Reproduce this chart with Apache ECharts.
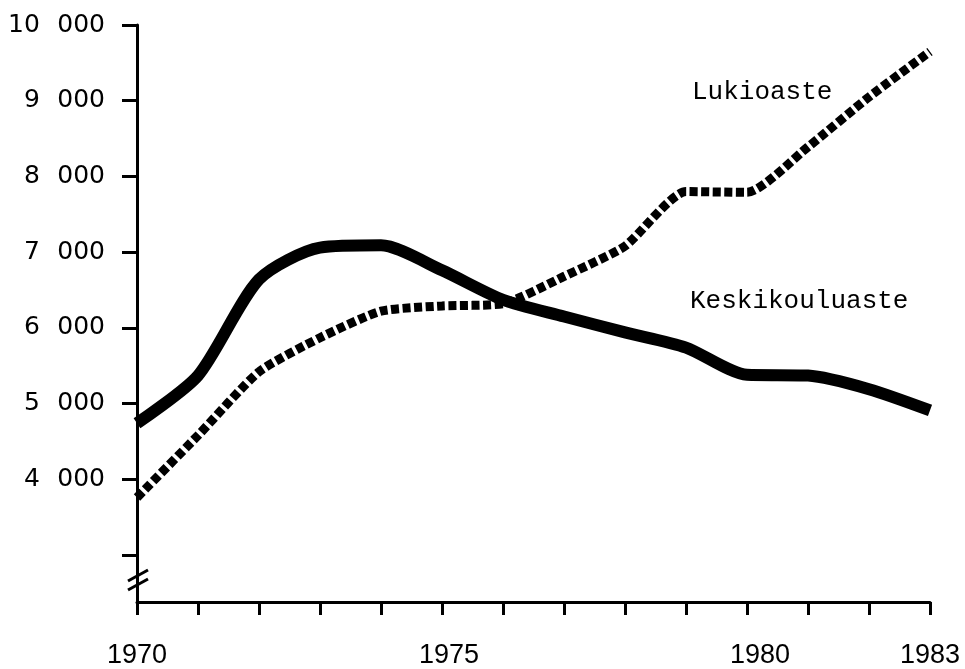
<!DOCTYPE html>
<html>
<head>
<meta charset="utf-8">
<script src="https://cdn.jsdelivr.net/npm/echarts@6/dist/echarts.min.js"></script>
<style>
  html, body { margin: 0; padding: 0; background: #fff; }
  #chart { width: 965px; height: 669px; }
</style>
</head>
<body>
<div id="chart"></div>
<script>
// values (pupils per year)
const years = [1970, 1971, 1972, 1973, 1974, 1975, 1976, 1977, 1978, 1979, 1980, 1981, 1982, 1983]
const keskikouluaste = [4740, 5370, 6640, 7060, 7090, 6760, 6370, 6150, 5940, 5740, 5380, 5370, 5190, 4910]
const lukioaste = [3760, 4580, 5420, 5870, 6220, 6290, 6320, 6680, 7080, 7800, 7790, 8390, 9050, 9650]
const yTicks = [3000, 4000, 5000, 6000, 7000, 8000, 9000, 10000]
const yLabels = [4000, 5000, 6000, 7000, 8000, 9000, 10000]
const xLabels = [1970, 1975, 1980, 1983]

const chart = echarts.init(document.getElementById('chart'), null, { renderer: 'canvas' })

const ink = '#000'

const option = {
  backgroundColor: '#fff',
  animation: false,
  grid: { left: 137, right: 35, top: 25, bottom: 67 },
  xAxis: {
    type: 'value',
    min: 1970,
    max: 1983,
    interval: 1,
    splitLine: { show: false },
    axisLine: { lineStyle: { color: ink, width: 3 } },
    axisTick: { inside: false, length: 13, lineStyle: { color: ink, width: 3 } },
    axisLabel: {
      customValues: xLabels,
      margin: 40,
      color: ink,
      fontFamily: 'Liberation Sans',
      fontSize: 27,
      // the printed 1975 and 1980 sit a little right of their ticks
      formatter: v => v === 1975 ? '{a|1975}' : v === 1980 ? '{b|1980}' : String(v),
      rich: {
        a: { padding: [0, 0, 0, 14], fontFamily: 'Liberation Sans', fontSize: 27, color: ink },
        b: { padding: [0, 0, 0, 26], fontFamily: 'Liberation Sans', fontSize: 27, color: ink }
      }
    }
  },
  yAxis: {
    type: 'value',
    min: 2380,
    max: 10000,
    splitLine: { show: false },
    axisLine: { show: true, lineStyle: { color: ink, width: 3 } },
    axisTick: { show: true, customValues: yTicks, length: 15, lineStyle: { color: ink, width: 3 } },
    axisLabel: {
      customValues: yLabels,
      margin: 32,
      color: ink,
      fontFamily: 'DejaVu Sans',
      fontSize: 25,
      formatter: v => String(v).replace(/(\d)(?=\d{3}$)/, '$1\u2002\u2009')
    }
  },
  series: [
    {
      name: 'Keskikouluaste',
      type: 'line',
      data: years.map((y, i) => [y, keskikouluaste[i]]),
      smooth: 0.25,
      showSymbol: false,
      lineStyle: { color: ink, width: 12, cap: 'butt', join: 'round' }
    },
    {
      name: 'Lukioaste',
      type: 'line',
      data: years.map((y, i) => [y, lukioaste[i]]),
      smooth: 0.2,
      showSymbol: false,
      lineStyle: { color: ink, width: 9, type: [8, 3.5], cap: 'butt' }
    }
  ],
  graphic: [
    // axis break marks
    { type: 'line', shape: { x1: 128, y1: 581, x2: 148, y2: 570 }, style: { stroke: ink, lineWidth: 3 } },
    { type: 'line', shape: { x1: 128, y1: 590, x2: 148, y2: 579 }, style: { stroke: ink, lineWidth: 3 } },
    // series names
    {
      type: 'text', left: 692, top: 79,
      style: { text: 'Lukioaste', fill: ink, font: '26px "Liberation Mono"' }
    },
    {
      type: 'text', left: 690, top: 288,
      style: { text: 'Keskikouluaste', fill: ink, font: '26px "Liberation Mono"' }
    }
  ]
}

chart.setOption(option)
</script>
</body>
</html>
